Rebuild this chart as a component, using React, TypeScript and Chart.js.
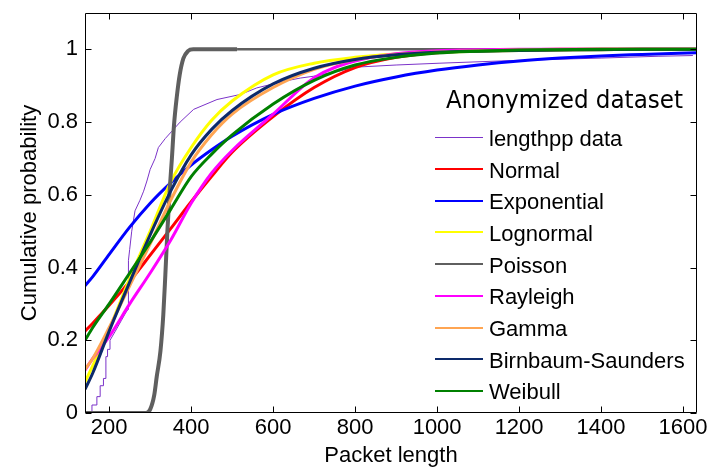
import React, { useEffect, useRef } from 'react';
import { Chart, registerables } from 'chart.js';

Chart.register(...registerables);

// ---- data ----
const FIT_X = [141, 160, 200, 250, 300, 350, 400, 450, 500, 600, 700, 800, 900, 1000, 1100, 1200, 1300, 1400, 1500, 1634];
const NORMAL_Y = [0.225, 0.247, 0.296, 0.362, 0.434, 0.507, 0.581, 0.651, 0.717, 0.815, 0.895, 0.95, 0.978, 0.991, 0.997, 0.999, 1, 1, 1, 1];
const EXPONENTIAL_Y = [0.35, 0.375, 0.436, 0.511, 0.577, 0.633, 0.682, 0.724, 0.761, 0.821, 0.865, 0.899, 0.924, 0.943, 0.957, 0.968, 0.976, 0.982, 0.986, 0.991];
const LOGNORMAL_Y = [0.085, 0.13, 0.23, 0.37, 0.5, 0.635, 0.73, 0.805, 0.858, 0.93, 0.962, 0.978, 0.987, 0.992, 0.995, 0.997, 0.998, 0.999, 1, 1];
const RAYLEIGH_Y = [0.118, 0.15, 0.21, 0.3, 0.385, 0.475, 0.577, 0.66, 0.722, 0.822, 0.922, 0.968, 0.988, 0.996, 0.999, 1, 1, 1, 1, 1];
const GAMMA_Y = [0.12, 0.15, 0.235, 0.35, 0.465, 0.585, 0.69, 0.765, 0.822, 0.895, 0.945, 0.972, 0.986, 0.993, 0.996, 0.998, 0.999, 1, 1, 1];
const BIRNBAUM_Y = [0.065, 0.11, 0.225, 0.36, 0.49, 0.61, 0.71, 0.78, 0.832, 0.905, 0.948, 0.972, 0.985, 0.992, 0.995, 0.997, 0.998, 0.999, 1, 1];
const WEIBULL_Y = [0.2, 0.235, 0.3, 0.385, 0.47, 0.56, 0.65, 0.712, 0.765, 0.85, 0.915, 0.957, 0.978, 0.99, 0.995, 0.998, 0.999, 1, 1, 1];

const POISSON_X = [141, 290, 300, 310, 316, 325, 332, 337, 342, 348, 353, 358, 365, 372, 381, 392, 405, 512, 1634];
const POISSON_Y = [0, 0, 0.01, 0.05, 0.1, 0.17, 0.27, 0.38, 0.5, 0.62, 0.7, 0.79, 0.87, 0.93, 0.975, 0.995, 1, 1, 1];

const DATA_X = [158, 158, 170, 170, 178, 178, 186, 186, 192, 192, 196, 196, 202, 202, 215, 230, 240, 246, 247, 250, 255, 263, 275, 284, 292, 300, 312, 320, 337, 353, 373, 406, 463, 520, 560, 625, 666, 698, 760, 800, 900, 1007, 1178, 1332, 1400, 1539, 1624];
const DATA_Y = [0, 0.022, 0.022, 0.045, 0.045, 0.075, 0.075, 0.095, 0.095, 0.155, 0.155, 0.175, 0.175, 0.2, 0.225, 0.255, 0.275, 0.285, 0.42, 0.45, 0.5, 0.556, 0.585, 0.61, 0.638, 0.67, 0.7, 0.73, 0.755, 0.775, 0.8, 0.835, 0.862, 0.876, 0.894, 0.912, 0.921, 0.926, 0.94, 0.951, 0.957, 0.962, 0.969, 0.974, 0.976, 0.981, 0.983];

const X_TICKS = [200, 400, 600, 800, 1000, 1200, 1400, 1600];
const Y_TICKS = [0, 0.2, 0.4, 0.6, 0.8, 1];
const X_RANGE = [141, 1634];
const Y_RANGE = [0, 1.1];

const LEGEND_TITLE = 'Anonymized dataset';
const LABELS = ['lengthpp data', 'Normal', 'Exponential', 'Lognormal', 'Poisson', 'Rayleigh', 'Gamma', 'Birnbaum-Saunders', 'Weibull'];
const COLORS = ['#7b33c9', '#ff0000', '#0000ff', '#ffff00', '#5f5f5f', '#ff00ff', '#ffa552', '#0d2a6b', '#008000'];

const AXIS_FONT = '"Liberation Sans", Arial, sans-serif';

function pts(xs: number[], ys: number[]) {
  return xs.map((x, i) => ({ x, y: ys[i] }));
}

const framePlugin = {
  id: 'matlabFrame',
  afterDatasetsDraw(chart: any) {
    const { ctx, chartArea: a, scales } = chart;
    ctx.save();
    ctx.strokeStyle = '#000';
    ctx.lineWidth = 1;
    const l = Math.round(a.left) + 0.5;
    const r = Math.round(a.right) - 0.5;
    const t = Math.round(a.top) + 0.5;
    const b = Math.round(a.bottom) - 0.5;
    ctx.beginPath();
    ctx.rect(l, t, r - l, b - t);
    const L = 6;
    X_TICKS.forEach((v) => {
      const px = Math.round(scales.x.getPixelForValue(v)) + 0.5;
      ctx.moveTo(px, b);
      ctx.lineTo(px, b - L);
      ctx.moveTo(px, t);
      ctx.lineTo(px, t + L);
    });
    Y_TICKS.forEach((v) => {
      const py = Math.round(scales.y.getPixelForValue(v)) + 0.5;
      ctx.moveTo(l, py);
      ctx.lineTo(l + L, py);
      ctx.moveTo(r, py);
      ctx.lineTo(r - L, py);
    });
    ctx.stroke();

    // legend
    const lineX0 = a.right - 262;
    const lineX1 = a.right - 214;
    const textX = a.right - 208;
    const row0 = a.top + 124.3;
    const step = 31.7;

    // title
    ctx.fillStyle = '#000';
    ctx.font = '25px "DejaVu Sans", sans-serif';
    ctx.textBaseline = 'alphabetic';
    ctx.textAlign = 'left';
    const tw = ctx.measureText(LEGEND_TITLE).width;
    const targetW = 237;
    const sx = targetW / tw;
    ctx.save();
    ctx.translate(a.right - 251, a.top + 95.3);
    ctx.scale(sx, 1);
    ctx.fillText(LEGEND_TITLE, 0, 0);
    ctx.restore();

    ctx.font = '22px ' + AXIS_FONT;
    LABELS.forEach((lab, i) => {
      const y = row0 + i * step;
      ctx.strokeStyle = COLORS[i];
      ctx.lineWidth = i === 0 ? 1 : 2;
      ctx.beginPath();
      ctx.moveTo(lineX0, Math.round(y) + (i === 0 ? 0.5 : 0));
      ctx.lineTo(lineX1, Math.round(y) + (i === 0 ? 0.5 : 0));
      ctx.stroke();
      ctx.fillStyle = '#000';
      ctx.fillText(lab, textX, y + 8.5);
    });
    ctx.restore();
  },
};

export default function App() {
  const ref = useRef<HTMLCanvasElement | null>(null);

  useEffect(() => {
    document.body.style.margin = '0';
    const canvas = ref.current!;
    const series = [
      pts(DATA_X, DATA_Y),
      pts(FIT_X, NORMAL_Y),
      pts(FIT_X, EXPONENTIAL_Y),
      pts(FIT_X, LOGNORMAL_Y),
      pts(POISSON_X, POISSON_Y),
      pts(FIT_X, RAYLEIGH_Y),
      pts(FIT_X, GAMMA_Y),
      pts(FIT_X, BIRNBAUM_Y),
      pts(FIT_X, WEIBULL_Y),
    ];
    const datasets = series.map((data, i) => {
      const ds: any = {
        label: LABELS[i],
        data,
        borderColor: COLORS[i],
        backgroundColor: COLORS[i],
        borderWidth: i === 0 ? 1 : 3,
        pointRadius: 0,
        fill: false,
        tension: 0,
        order: 8 - i,
      };
      if (i > 0) ds.cubicInterpolationMode = 'monotone';
      if (i === 4) {
        ds.borderWidth = 4;
        ds.segment = {
          borderWidth: (c: any) => (c.p0.parsed.x >= 512 ? 2.5 : 4),
        };
      }
      return ds;
    });

    const chart = new Chart(canvas, {
      type: 'line',
      data: { datasets },
      plugins: [framePlugin],
      options: {
        responsive: false,
        animation: false,
        devicePixelRatio: 1,
        layout: { padding: { left: 0, right: 20, top: 13, bottom: 0 } },
        plugins: { legend: { display: false }, tooltip: { enabled: false } },
        scales: {
          x: {
            type: 'linear',
            min: X_RANGE[0],
            max: X_RANGE[1],
            afterBuildTicks: (s: any) => {
              s.ticks = X_TICKS.map((v) => ({ value: v }));
            },
            afterFit: (s: any) => {
              s.height = 56;
            },
            grid: { display: false, drawTicks: false, tickLength: 0 },
            border: { display: false },
            ticks: {
              autoSkip: false,
              maxRotation: 0,
              padding: 2,
              color: '#000',
              font: { family: AXIS_FONT, size: 22 },
              callback: (v: any) => String(v),
            },
            title: {
              display: true,
              text: 'Packet length',
              color: '#000',
              font: { family: AXIS_FONT, size: 22 },
              padding: { top: 0, bottom: 0 },
            },
          },
          y: {
            type: 'linear',
            min: Y_RANGE[0],
            max: Y_RANGE[1],
            afterBuildTicks: (s: any) => {
              s.ticks = Y_TICKS.map((v) => ({ value: v }));
            },
            afterFit: (s: any) => {
              s.width = 85;
            },
            grid: { display: false, drawTicks: false, tickLength: 0 },
            border: { display: false },
            ticks: {
              autoSkip: false,
              padding: 7,
              color: '#000',
              font: { family: AXIS_FONT, size: 22, lineHeight: 0 },
              callback: (v: any) => String(v),
            },
            title: {
              display: true,
              text: 'Cumulative probability',
              color: '#000',
              font: { family: AXIS_FONT, size: 22 },
              padding: { top: 17, bottom: 0 },
            },
          },
        },
      } as any,
    });
    return () => chart.destroy();
  }, []);

  return (
    <div style={{ width: 717, height: 469 }}>
      <canvas ref={ref} width={717} height={469} style={{ display: 'block', width: 717, height: 469 }} />
    </div>
  );
}
